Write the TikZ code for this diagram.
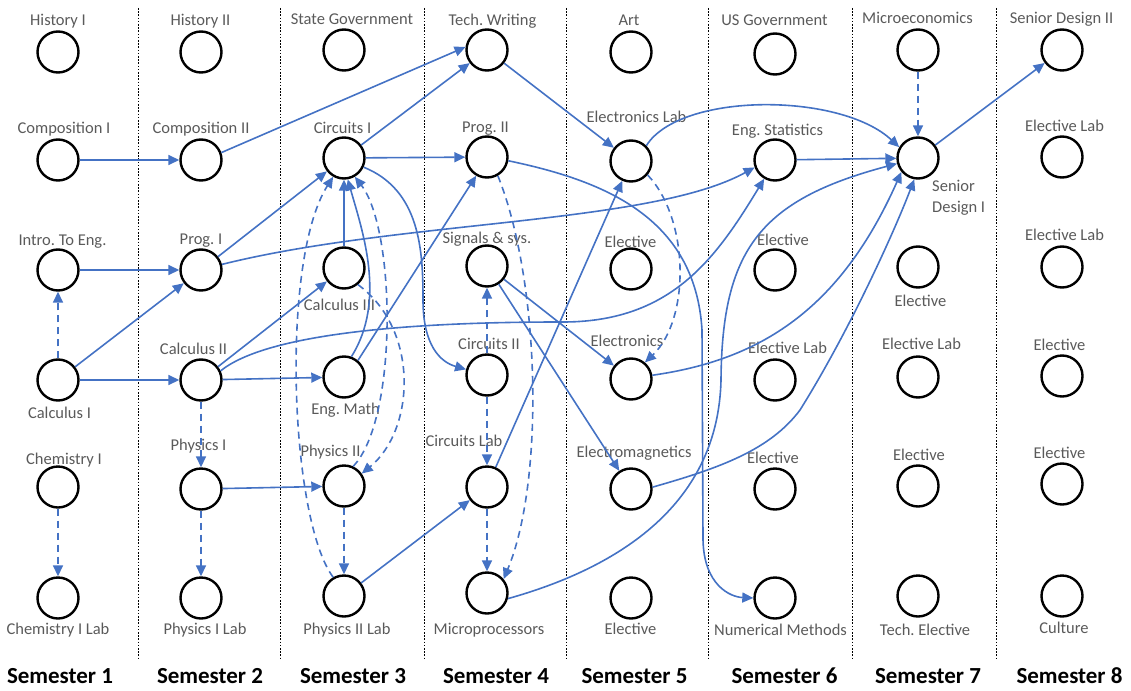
\documentclass[tikz,border=0pt]{standalone}
\usepackage{fontspec}
\setmainfont{Carlito}
\usetikzlibrary{arrows.meta}
\definecolor{link}{HTML}{4472C4}
\definecolor{labelgray}{HTML}{5A5A5A}
\frenchspacing

\begin{document}
\begin{tikzpicture}[x=1pt,y=-1pt,
  course/.style={circle,draw=black,line width=2.4pt,minimum size=41pt,inner sep=0pt},
  lbl/.style={text=labelgray,font=\fontsize{16.5}{19}\selectfont,inner sep=0pt,anchor=base},
  sem/.style={font=\fontsize{23}{26}\selectfont\bfseries,inner sep=0pt,anchor=base},
  req/.style={draw=link,line width=1.6pt,-{Triangle[length=11pt,width=10pt]}},
  coreq/.style={req,dash pattern=on 7pt off 5pt},
  divider/.style={draw=black,line width=0.8pt,dash pattern=on 1.6pt off 1.6pt}]

\useasboundingbox (0,0) rectangle (1131,690);

% semester separators
\foreach \x in {138,280,424,566,708,852,996}
  \draw[divider] (\x,8) -- (\x,660);

% ---- courses ----
% semester 1
\node[course] (hisI)    at (58,52)  {};
\node[course] (compI)   at (58,160) {};
\node[course] (intro)   at (58,270) {};
\node[course] (calcI)   at (58,380) {};
\node[course] (chemI)   at (58,487) {};
\node[course] (chemlab) at (58,598) {};
% semester 2
\node[course] (hisII)    at (201,52)  {};
\node[course] (compII)   at (201,160) {};
\node[course] (progI)    at (201,270) {};
\node[course] (calcII)   at (201,380) {};
\node[course] (physI)    at (201,489) {};
\node[course] (physIlab) at (201,598) {};
% semester 3
\node[course] (stgov)     at (344,50)  {};
\node[course] (circI)     at (344,158) {};
\node[course] (calcIII)   at (344,268) {};
\node[course] (engmath)   at (344,377) {};
\node[course] (physII)    at (344,486) {};
\node[course] (physIIlab) at (344,596) {};
% semester 4
\node[course] (techw)   at (487,50)  {};
\node[course] (progII)  at (487,157) {};
\node[course] (sigs)    at (487,266) {};
\node[course] (circII)  at (487,375) {};
\node[course] (circlab) at (487,487) {};
\node[course] (micro)   at (487,593) {};
% semester 5
\node[course] (art)    at (631,52)  {};
\node[course] (eleclab) at (631,161) {};
\node[course] (elA)    at (631,269) {};
\node[course] (elec)   at (631,379) {};
\node[course] (emag)   at (631,489) {};
\node[course] (elB)    at (631,598) {};
% semester 6
\node[course] (usgov)   at (775,54)  {};
\node[course] (engstat) at (775,160) {};
\node[course] (elC)     at (775,270) {};
\node[course] (elClab)  at (775,380) {};
\node[course] (elD)     at (775,489) {};
\node[course] (nummeth) at (775,598) {};
% semester 7
\node[course] (microecon) at (918,50)  {};
\node[course] (sdI)       at (918,158) {};
\node[course] (elE)       at (918,267) {};
\node[course] (elElab)    at (918,377) {};
\node[course] (elF)       at (918,486) {};
\node[course] (techel)    at (918,596) {};
% semester 8
\node[course] (sdII)    at (1062,50)  {};
\node[course] (elGlab)  at (1062,157) {};
\node[course] (elHlab)  at (1062,267) {};
\node[course] (elG)     at (1062,376) {};
\node[course] (elH)     at (1062,484) {};
\node[course] (culture) at (1062,596) {};

% ---- course names ----
\node[lbl] (t-hisI)    at (58,25.5)   {History I};
\node[lbl] (t-compI)   at (64,133.5)  {Composition I};
\node[lbl] (t-intro)   at (62.5,245.5){Intro. To Eng.};
\node[lbl] (t-calcI)   at (59.5,418.5){Calculus I};
\node[lbl] (t-chemI)   at (64,464.5)  {Chemistry I};
\node[lbl] (t-chemlab) at (58,634.5)  {Chemistry I Lab};

\node[lbl] (t-hisII)    at (200.5,25.5) {History II};
\node[lbl] (t-compII)   at (201,133.5)  {Composition II};
\node[lbl] (t-progI)    at (201,244.5)  {Prog. I};
\node[lbl] (t-calcII)   at (193.5,354.5){Calculus II};
\node[lbl] (t-physI)    at (198.5,450.5){Physics I};
\node[lbl] (t-physIlab) at (205,634.5)  {Physics I Lab};

\node[lbl] (t-stgov)     at (352,24.5)   {State Government};
\node[lbl] (t-circI)     at (342.5,133.5){Circuits I};
\node[lbl] (t-calcIII)   at (339.5,310.5){Calculus III};
\node[lbl] (t-engmath)   at (345.5,414.5){Eng. Math};
\node[lbl] (t-physII)    at (330.5,456.5){Physics II};
\node[lbl] (t-physIIlab) at (347,634.5)  {Physics II Lab};

\node[lbl] (t-techw)   at (492.5,25.5) {Tech. Writing};
\node[lbl] (t-progII)  at (485.5,132.5){Prog. II};
\node[lbl] (t-sigs)    at (487,243.5)  {Signals \& sys.};
\node[lbl] (t-circII)  at (489,349.5)  {Circuits II};
\node[lbl] (t-circlab) at (464,446.5)  {Circuits Lab};
\node[lbl] (t-micro)   at (489,634.5)  {Microprocessors};

\node[lbl] (t-art)     at (629,25.5)   {Art};
\node[lbl] (t-eleclab) at (636.5,122.5){Electronics Lab};
\node[lbl] (t-elA)     at (630.5,247.5){Elective};
\node[lbl] (t-elec)    at (627,346.5)  {Electronics};
\node[lbl] (t-emag)    at (634,457.5)  {Electromagnetics};
\node[lbl] (t-elB)     at (630.5,634.5){Elective};

\node[lbl] (t-usgov)   at (774.5,25.5) {US Government};
\node[lbl] (t-engstat) at (777.5,135.5){Eng. Statistics};
\node[lbl] (t-elC)     at (783,245.5)  {Elective};
\node[lbl] (t-elClab)  at (787.5,353.5){Elective Lab};
\node[lbl] (t-elD)     at (773,463.5)  {Elective};
\node[lbl] (t-nummeth) at (780.5,635.5){Numerical Methods};

\node[lbl] (t-microecon) at (917.5,23.5) {Microeconomics};
\node[lbl,anchor=base west] (t-sdIa) at (932,191.5) {Senior};
\node[lbl,anchor=base west] (t-sdIb) at (932,212.5) {Design I};
\node[lbl] (t-elE)       at (920.5,306.5){Elective};
\node[lbl] (t-elElab)    at (921.5,349.5){Elective Lab};
\node[lbl] (t-elF)       at (919,460.5)  {Elective};
\node[lbl] (t-techel)    at (925,635.5)  {Tech. Elective};

\node[lbl] (t-sdII)    at (1061.5,23.5) {Senior Design II};
\node[lbl] (t-elGlab)  at (1064.5,131.5){Elective Lab};
\node[lbl] (t-elHlab)  at (1064.5,240.5){Elective Lab};
\node[lbl] (t-elG)     at (1059.5,350.5){Elective};
\node[lbl] (t-elH)     at (1059.5,458.5){Elective};
\node[lbl] (t-culture) at (1064,633.5)  {Culture};

% ---- semester headings ----
\node[sem] (s1) at (60,683)    {Semester 1};
\node[sem] (s2) at (210,683)   {Semester 2};
\node[sem] (s3) at (353,683)   {Semester 3};
\node[sem] (s4) at (496,683)   {Semester 4};
\node[sem] (s5) at (634.5,683) {Semester 5};
\node[sem] (s6) at (784.5,683) {Semester 6};
\node[sem] (s7) at (928,683)   {Semester 7};
\node[sem] (s8) at (1069.5,683){Semester 8};

% ---- prerequisites (solid) and co-requisites (dashed) ----
% semester 1 out
\draw[req]   (compI) -- (compII);
\draw[req]   (intro) -- (progI);
\draw[coreq] (calcI) -- (intro);
\draw[req]   (calcI) -- (progI);
\draw[req]   (calcI) -- (calcII);
\draw[coreq] (chemI) -- (chemlab);

% semester 2 out
\draw[req]   (compII.20) -- (techw.172);
\draw[req]   (progI) -- (circI);
\draw[req]   (progI.15) .. controls (400,220) and (650,225) .. (engstat.200);
\draw[req]   (calcII) -- (calcIII);
\draw[req]   (calcII.25) .. controls (265,335) and (400,322) .. (560,322)
             .. controls (670,323) and (715,260) .. (engstat.240);
\draw[req]   (calcII) -- (engmath);
\draw[coreq] (calcII) -- (physI);
\draw[req]   (physI) -- (physII);
\draw[coreq] (physI) -- (physIlab);

% semester 3 out
\draw[req]   (circI) -- (techw);
\draw[req]   (circI) -- (progII);
\draw[req]   (circI.-25) .. controls (420,190) and (423,250) .. (423,300)
             .. controls (423,345) and (440,362) .. (circII.165);
\draw[req]   (calcIII) -- (circI);
\draw[coreq] (calcIII.-50) .. controls (420,330) and (415,430) .. (physII.35);
\draw[req]   (engmath.70) .. controls (387,300) and (362,230) .. (circI.280);
\draw[req]   (engmath.50) -- (progII.240);
\draw[coreq] (physII.65) .. controls (398,420) and (396,230) .. (circI.300);
\draw[coreq] (physII) -- (physIIlab);
\draw[coreq] (physIIlab.120) .. controls (290,520) and (280,260) .. (circI.240);
\draw[req]   (physIIlab) -- (circlab);

% semester 4 out
\draw[req]   (techw) -- (eleclab);
\draw[req]   (progII.-10) .. controls (600,180) and (695,215) .. (702,330)
             -- (703,540) .. controls (704,585) and (730,597) .. (nummeth.west);
\draw[coreq] (progII.-60) .. controls (540,280) and (545,480) .. (micro.40);
\draw[req]   (sigs) -- (elec);
\draw[req]   (sigs) -- (emag);
\draw[coreq] (circII) -- (sigs);
\draw[coreq] (circII) -- (circlab);
\draw[req]   (circlab) -- (eleclab);
\draw[coreq] (circlab) -- (micro);
\draw[req]   (micro.-15) .. controls (610,570) and (718,510) .. (721,380)
             .. controls (722,250) and (760,200) .. (sdI.195);

% semester 5 out
\draw[coreq] (eleclab.-40) .. controls (690,220) and (690,320) .. (elec.50);
\draw[req]   (eleclab.45) .. controls (680,92) and (840,92) .. (sdI.150);
\draw[req]   (elec.10) .. controls (760,360) and (840,310) .. (sdI.220);
\draw[req]   (emag.5) .. controls (720,468) and (770,450) .. (800,410)
             .. controls (850,330) and (895,230) .. (sdI.260);

% semester 6 and 7 out
\draw[req]   (engstat) -- (sdI);
\draw[coreq] (microecon) -- (sdI);
\draw[req]   (sdI) -- (sdII);

\end{tikzpicture}
\end{document}
